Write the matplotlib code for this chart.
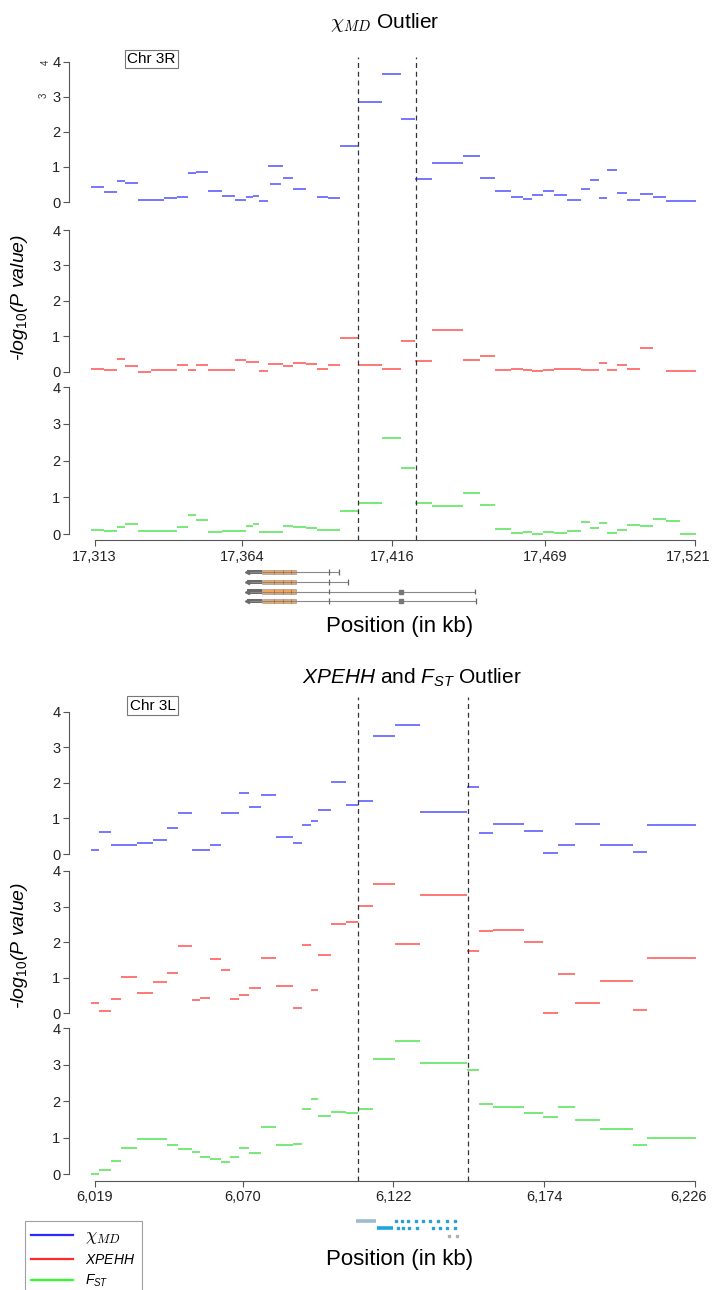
import numpy as np
import matplotlib
matplotlib.use("Agg")
import matplotlib.pyplot as plt
import matplotlib.transforms as mtransforms
from matplotlib.lines import Line2D

plt.rcParams.update({
    "font.family": ["Liberation Sans", "DejaVu Sans"],
    "mathtext.fontset": "custom",
    "mathtext.rm": "Liberation Sans",
    "mathtext.it": "Liberation Sans:italic",
    "mathtext.sf": "Liberation Sans",
    "axes.linewidth": 0.8,
})

# ---- Chr 3R region (kb) ----
R3_EDGES = [17311.9, 17316.3, 17320.8, 17323.5, 17328.2, 17332.5, 17336.9, 17341.4,
            17345.5, 17348.0, 17352.3, 17357.1, 17361.7, 17365.3, 17367.7, 17369.9,
            17373.1, 17378.3, 17381.8, 17386.1, 17390.0, 17393.7, 17398.1, 17404.2,
            17412.6, 17419.1, 17424.1, 17429.8, 17440.5, 17446.5, 17451.6, 17457.1,
            17461.4, 17464.4, 17468.2, 17472.2, 17476.5, 17481.5, 17484.7, 17487.7,
            17490.4, 17493.9, 17497.5, 17502.0, 17506.4, 17511.0, 17515.6, 17521.2]
R3_CHI = [0.43, 0.29, 0.61, 0.54, 0.05, 0.05, 0.10, 0.14, 0.82, 0.85, 0.30, 0.18,
          0.06, 0.15, 0.18, 0.03, 1.04, 0.69, 0.37, np.nan, 0.13, 0.12, 1.61, 2.85,
          3.64, 2.36, 0.65, 1.10, 1.31, 0.67, 0.30, 0.15, 0.08, 0.20, 0.32, 0.20,
          0.07, 0.38, 0.62, 0.10, 0.92, 0.26, 0.05, 0.22, 0.13, 0.03, 0.04]
R3_CHI_EXTRA = [(17373.9, 17377.6, 0.52)]
R3_XPEHH = [0.09, 0.04, 0.36, 0.15, 0.00, 0.05, 0.05, 0.20, 0.04, 0.18, 0.05, 0.05,
            0.33, 0.26, 0.26, 0.03, 0.22, 0.16, 0.25, 0.22, 0.08, 0.20, 0.94, 0.18,
            0.08, 0.87, 0.30, 1.19, 0.33, 0.43, 0.05, 0.09, 0.04, 0.02, 0.04, 0.08,
            0.08, 0.05, 0.05, 0.25, 0.04, 0.20, 0.09, 0.68, np.nan, 0.02, 0.03]
R3_FST = [0.12, 0.09, 0.20, 0.28, 0.09, 0.09, 0.08, 0.19, 0.51, 0.37, 0.05, 0.07,
          0.07, 0.22, 0.26, 0.05, 0.05, 0.22, 0.19, 0.15, 0.12, 0.12, 0.62, 0.85,
          2.62, 1.79, 0.84, 0.77, 1.12, 0.80, 0.14, 0.02, 0.06, 0.01, 0.06, 0.04,
          0.07, 0.32, 0.15, 0.30, 0.02, 0.10, 0.24, 0.21, 0.40, 0.35, 0.01]
R3_TICKS = [17313, 17364, 17416, 17469, 17521]
R3_XLIM = (17304.0, 17522.7)
R3_OUTLIER = [17404.2, 17424.2]

# ---- Chr 3L region (kb) ----
L3_EDGES = [6017.7, 6020.6, 6024.5, 6028.0, 6033.5, 6039.2, 6044.0, 6047.7, 6052.5,
            6055.3, 6058.8, 6062.4, 6065.6, 6068.9, 6072.2, 6076.3, 6081.5, 6087.5,
            6090.4, 6093.5, 6095.9, 6100.5, 6105.7, 6109.8, 6114.8, 6122.6, 6131.0,
            6147.5, 6151.5, 6156.4, 6167.0, 6173.7, 6178.8, 6184.5, 6193.3, 6204.7,
            6209.3, 6226.2]
L3_CHI = [0.12, 0.63, 0.25, 0.25, 0.31, 0.40, 0.74, 1.15, 0.11, 0.11, 0.24, 1.14,
          1.14, 1.72, 1.33, 1.67, 0.47, 0.32, 0.81, 0.94, 1.23, 2.01, 1.39, 1.48,
          3.33, 3.63, 1.18, 1.87, 0.60, 0.84, 0.65, 0.02, 0.26, 0.83, 0.26, 0.07, 0.81]
L3_XPEHH = [0.30, 0.07, 0.39, 1.02, 0.57, 0.88, 1.14, 1.88, 0.37, 0.44, 1.54, 1.21,
            0.39, 0.52, 0.72, 1.56, 0.77, 0.16, 1.92, 0.65, 1.63, 2.51, 2.56, 3.03,
            3.63, 1.96, 3.33, 1.75, 2.30, 2.33, 2.00, 0.02, 1.10, 0.28, 0.90, 0.09, 1.55]
L3_FST = [0.01, 0.11, 0.37, 0.71, 0.97, 0.96, 0.81, 0.68, 0.61, 0.47, 0.41, 0.35,
          0.48, 0.71, 0.58, 1.29, 0.79, 0.84, 1.78, 2.05, 1.59, 1.70, 1.69, 1.78,
          3.15, 3.65, 3.04, 2.86, 1.92, 1.84, 1.67, 1.58, 1.84, 1.48, 1.25, 0.79, 0.99]
L3_TICKS = [6019, 6070, 6122, 6174, 6226]
L3_XLIM = (6010.0, 6227.7)
L3_OUTLIER = [6109.9, 6147.6]

# ---- gene models ----
R3_TX_START = 17365.7
R3_UTR_END = 17370.9
R3_CDS_END = 17382.7
R3_CDS_MARKS = [17375.0, 17378.3, 17381.0]
R3_TX_END = [17397.6, 17400.8, 17444.8, 17445.1]
R3_EXON_TICK = 17394.2
R3_EXON_DOT = [None, None, 17419.1, 17419.1]

L3_BARS = [(6109.1, 6116.0, "#9dbccb"), (6116.5, 6121.8, "#1ea6de")]
L3_EXONS = [[6122.9, 6124.9, 6127.0, 6129.7, 6132.1, 6134.7, 6137.4, 6140.4, 6143.2],
            [6123.7, 6125.4, 6127.5, 6130.0, 6135.8, 6138.1, 6140.6, 6143.3],
            [6141.2, 6144.0]]

BLUE, RED, GREEN = "#3a3aff", "#ff3a3a", "#3ae03a"
GREY = "#555555"

W, H = 714, 1290
L_PX, R_PX = 68.6, 700
fig = plt.figure(figsize=(W / 100, H / 100), dpi=100)


def px_rect(left, top, right, bottom):
    return [left / W, 1 - bottom / H, (right - left) / W, (bottom - top) / H]


def draw_segments(ax, edges, values, color):
    edges = np.asarray(edges)
    vals = np.asarray(values, dtype=float)
    ok = ~np.isnan(vals)
    ax.hlines(vals[ok], edges[:-1][ok], edges[1:][ok], colors=color,
              linewidth=1.3, alpha=0.75)


def panel(y0, y4, xlim, lo=-0.1, hi=4.1):
    ppu = (y0 - y4) / 4
    ax = fig.add_axes(px_rect(L_PX, y4 - (hi - 4) * ppu, R_PX, y0 - lo * ppu))
    ax.patch.set_alpha(0)
    ax.set_xlim(xlim)
    ax.set_ylim(lo, hi)
    for s in ("top", "right", "bottom"):
        ax.spines[s].set_visible(False)
    ax.spines["left"].set_bounds(0, 4)
    ax.spines["left"].set_color(GREY)
    ax.set_yticks(range(5))
    ax.tick_params(axis="y", length=4, width=0.8, color=GREY, pad=2,
                   labelsize=10.5, labelcolor="#222222")
    ax.set_xticks([])
    return ax


def add_xaxis(ax, ticks):
    ax.spines["bottom"].set_visible(True)
    ax.spines["bottom"].set_color(GREY)
    ax.spines["bottom"].set_bounds(ticks[0], ticks[-1])
    ax.set_xticks(ticks)
    ax.set_xticklabels([f"{t:,}" for t in ticks])
    ax.tick_params(axis="x", length=4, width=0.8, color=GREY, pad=3,
                   labelsize=10.5, labelcolor="#222222")
    # keep the right-most label inside the canvas
    last = ax.get_xticklabels()[-1]
    last.set_transform(last.get_transform() +
                       mtransforms.ScaledTranslation(-5 / 72, 0, fig.dpi_scale_trans))


def outlier_lines(top, bottom, xlim, xs):
    ov = fig.add_axes(px_rect(L_PX, top, R_PX, bottom))
    ov.set_xlim(xlim)
    ov.set_ylim(0, 1)
    ov.axis("off")
    for x in xs:
        ov.axvline(x, color="#333333", linewidth=0.9, dashes=(4, 3))


# ================= Chr 3R =================
a1 = panel(202.0, 61.7, R3_XLIM)
draw_segments(a1, R3_EDGES, R3_CHI, BLUE)
for s, e, v in R3_CHI_EXTRA:
    a1.hlines(v, s, e, colors=BLUE, linewidth=1.3, alpha=0.75)
a2 = panel(371.7, 230.0, R3_XLIM)
draw_segments(a2, R3_EDGES, R3_XPEHH, RED)
a3 = panel(534.0, 387.3, R3_XLIM, lo=-0.17)
draw_segments(a3, R3_EDGES, R3_FST, GREEN)
add_xaxis(a3, R3_TICKS)
outlier_lines(56.7, 540.0, R3_XLIM, R3_OUTLIER)

fig.text(151.5 / W, 1 - 59 / H, "Chr 3R", ha="center", va="center", fontsize=11,
         bbox=dict(boxstyle="square,pad=0.15", fc="white", ec="#777777", lw=0.8))
# stray rotated digits beside the first axis
fig.text(45.5 / W, 1 - 62 / H, "4", rotation=90, fontsize=7, ha="center", va="center",
         color="#333333")
fig.text(44 / W, 1 - 95 / H, "3", rotation=90, fontsize=7, ha="center", va="center",
         color="#333333")

fig.text(385 / W, 1 - 22.7 / H, r"$\chi_{MD}$ Outlier", ha="center", va="center",
         fontsize=15, math_fontfamily="cm")
fig.text(20 / W, 1 - 297 / H, r"-$\mathit{log_{10}}$(P value)", rotation=90,
         ha="center", va="center", fontsize=14, style="italic")
fig.text(400 / W, 1 - 627 / H, "Position (in kb)", ha="center", va="center", fontsize=16)

g1 = fig.add_axes(px_rect(L_PX, 567.5, R_PX, 605.9))
g1.set_xlim(R3_XLIM)
g1.set_ylim(4.5, 0.5)
g1.axis("off")
for i, (end, dot) in enumerate(zip(R3_TX_END, R3_EXON_DOT), start=1):
    g1.hlines(i, R3_TX_START, end, colors="#888888", linewidth=0.8)
    g1.barh(i, R3_UTR_END - R3_TX_START, left=R3_TX_START, height=0.42,
            color="#6b6b6b", linewidth=0)
    g1.barh(i, R3_CDS_END - R3_UTR_END, left=R3_UTR_END, height=0.42,
            color="#f4a55c", edgecolor="#8a8a8a", linewidth=0.4)
    g1.vlines(R3_CDS_MARKS, i - 0.21, i + 0.21, colors="#9a6a40", linewidth=0.5)
    g1.vlines([R3_EXON_TICK, end], i - 0.3, i + 0.3, colors="#666666", linewidth=0.9)
    g1.plot(R3_TX_START, i, marker="<", ms=3, color="#6b6b6b")
    if dot is not None:
        g1.plot(dot, i, marker="s", ms=3, color="#777777")

# ================= Chr 3L =================
b1 = panel(854.0, 711.7, L3_XLIM)
draw_segments(b1, L3_EDGES, L3_CHI, BLUE)
b2 = panel(1013.3, 871.0, L3_XLIM)
draw_segments(b2, L3_EDGES, L3_XPEHH, RED)
b3 = panel(1174.3, 1028.3, L3_XLIM, lo=-0.175)
draw_segments(b3, L3_EDGES, L3_FST, GREEN)
add_xaxis(b3, L3_TICKS)
outlier_lines(696.7, 1180.7, L3_XLIM, L3_OUTLIER)

fig.text(152.5 / W, 1 - 705.5 / H, "Chr 3L", ha="center", va="center", fontsize=11,
         bbox=dict(boxstyle="square,pad=0.15", fc="white", ec="#777777", lw=0.8))
fig.text(412 / W, 1 - 678 / H, r"$\mathit{XPEHH}$ and $\mathit{F_{ST}}$ Outlier",
         ha="center", va="center", fontsize=15)
fig.text(20 / W, 1 - 945 / H, r"-$\mathit{log_{10}}$(P value)", rotation=90,
         ha="center", va="center", fontsize=14, style="italic")
fig.text(400 / W, 1 - 1260 / H, "Position (in kb)", ha="center", va="center", fontsize=16)

g2 = fig.add_axes(px_rect(L_PX, 1217.3, R_PX, 1239.4))
g2.set_xlim(L3_XLIM)
g2.set_ylim(3.5, 0.5)
g2.axis("off")
for i, (s, e, c) in enumerate(L3_BARS, start=1):
    g2.hlines(i, s, e, colors=c, linewidth=2.6)
for i, exons in enumerate(L3_EXONS, start=1):
    g2.plot(exons, [i] * len(exons), linestyle="none", marker="s", ms=1.8,
            color="#2a9fd6" if i < 3 else "#b0b0b0")

handles = [Line2D([], [], color="#2b2bff", lw=1.6),
           Line2D([], [], color="#ff2b2b", lw=1.6),
           Line2D([], [], color="#2bff2b", lw=1.6)]
leg = fig.legend(handles, [r"$\chi_{MD}$", r"$\mathit{XPEHH}$", r"$\mathit{F_{ST}}$"],
                 loc="upper left", bbox_to_anchor=(25 / W, 1 - 1221 / H),
                 fontsize=10, frameon=True, fancybox=False, edgecolor="#888888",
                 handlelength=3.0, handletextpad=0.9, labelspacing=0.45,
                 borderpad=0.45, borderaxespad=0)
leg.get_frame().set_linewidth(0.8)
leg.get_texts()[0].set_math_fontfamily("cm")
leg.get_texts()[0].set_fontsize(13)

fig.savefig("out.png", dpi=100)
